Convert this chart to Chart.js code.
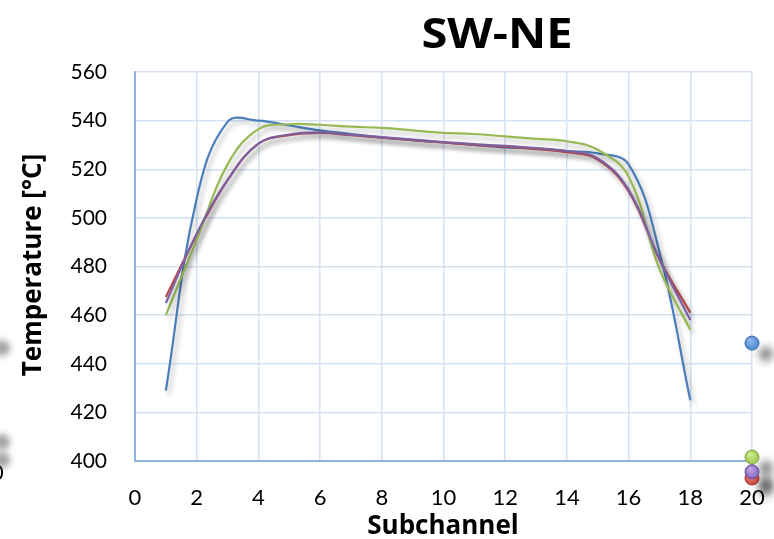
<!DOCTYPE html>
<html>
<head>
<meta charset="utf-8">
<script src="https://cdn.jsdelivr.net/npm/chart.js@4"></script>
<style>
  html, body { margin: 0; padding: 0; background: #fff; }
  #wrap { position: relative; width: 774px; height: 539px; overflow: hidden; font-family: "Open Sans", sans-serif; }
  #title { position: absolute; left: 497px; top: 31px; transform: translate(-50%, -50%) scaleX(1.12); font-weight: bold; font-size: 42px; color: #000; white-space: nowrap; }
  #ytitle { position: absolute; left: 31px; top: 265px; transform: translate(-50%, -50%) rotate(-90deg); font-weight: bold; font-size: 26px; white-space: nowrap; }
  #xtitle { position: absolute; left: 443px; top: 524px; transform: translate(-50%, -50%); font-weight: bold; font-size: 26px; white-space: nowrap; }
  #edge0 { position: absolute; left: -9px; top: 458px; font-size: 22px; font-family: Lato, sans-serif; }
  .blob { position: absolute; width: 16px; height: 16px; border-radius: 50%; background: rgba(90,90,90,0.55); filter: blur(3px); }
  canvas { position: absolute; left: 0; top: 0; }
</style>
</head>
<body>
<div id="wrap">
  <canvas id="c" width="774" height="539"></canvas>
  <div id="title">SW-NE</div>
  <div id="ytitle">Temperature [°C]</div>
  <div id="xtitle">Subchannel</div>
  <div id="edge0">0</div>
  <div class="blob" style="left:-6px;top:340px"></div>
  <div class="blob" style="left:-6px;top:434px"></div>
  <div class="blob" style="left:-6px;top:452px"></div>
</div>
<script>
const subchannels = [1,2,3,4,5,6,7,8,9,10,11,12,13,14,15,16,17,18];
const blueSeries   = [429,508,539.5,540,538,536,534.5,533,532,531,530,529,528.5,527.5,526.5,522,486,425];
const redSeries    = [467.5,493,515.5,530.5,534,535,534,533,532,531,530,529.3,528.3,527,524,511,483,461];
const greenSeries  = [460,491,522,536.5,538.5,538.3,537.5,537,536,535,534.5,533.5,532.5,531.5,528,517,479,454];
const purpleSeries = [465,493.5,515.5,530.5,534.3,535.2,534.2,533.2,532.2,531.2,530.3,529.6,528.7,527.5,524.5,511.5,483,458];
const endX = 20;
const endBlue = 448.5, endRed = 393, endGreen = 401.6, endPurple = 395.6;
const xTicks = [0,2,4,6,8,10,12,14,16,18,20];
const yTicks = [400,420,440,460,480,500,520,540,560];

const toXY = arr => arr.map((v,i) => ({x: subchannels[i], y: v}));

const lineDS = (label, data, color, order) => ({
  label, type: 'line', data: toXY(data), borderColor: color, borderWidth: 2.2,
  pointRadius: 0, tension: 0.4, fill: false, order: order, lineShadow: true
});

// end markers at subchannel 20 (some fall just below the axis, so drawn with clip off via the scales)
const endMarkers = [
  { value: endBlue,   light: '#8db8ee', base: '#4f86d0', edge: '#3c6fb3' },
  { value: endGreen,  light: '#cfeb8f', base: '#9cc64e', edge: '#7fa23c' },
  { value: endRed,    light: '#ee8a86', base: '#cc4541', edge: '#a33633' },
  { value: endPurple, light: '#bba5e3', base: '#8566bb', edge: '#68509a' }
];

const shadowPlugin = {
  id: 'shadows',
  beforeDatasetDraw(chart, args) {
    const ds = chart.data.datasets[args.index];
    const ctx = chart.ctx;
    ctx.save();
    if (ds.lineShadow) {
      ctx.shadowColor = 'rgba(0,0,0,0.28)';
      ctx.shadowBlur = 5; ctx.shadowOffsetX = 3; ctx.shadowOffsetY = 4;
    }
  },
  afterDatasetDraw(chart) { chart.ctx.restore(); },
  afterDatasetsDraw(chart) {
    const ctx = chart.ctx;
    const xs = chart.scales.x, ys = chart.scales.y;
    const px = xs.getPixelForValue(endX);
    const r = 7;
    endMarkers.forEach(m => {
      const py = ys.getPixelForValue(m.value);
      ctx.save();
      ctx.shadowColor = 'rgba(0,0,0,0.5)';
      ctx.shadowBlur = 9; ctx.shadowOffsetX = 14; ctx.shadowOffsetY = 11;
      const g = ctx.createRadialGradient(px - 2, py - 3, 1, px, py, r);
      g.addColorStop(0, m.light);
      g.addColorStop(1, m.base);
      ctx.beginPath();
      ctx.arc(px, py, r, 0, Math.PI * 2);
      ctx.fillStyle = g;
      ctx.fill();
      ctx.shadowColor = 'transparent';
      ctx.lineWidth = 1;
      ctx.strokeStyle = m.edge;
      ctx.stroke();
      ctx.restore();
    });
  }
};

new Chart(document.getElementById('c'), {
  data: {
    datasets: [
      lineDS('Series 1', blueSeries, '#4a7ebb', 8),
      lineDS('Series 2', redSeries, '#be4b48', 7),
      lineDS('Series 3', greenSeries, '#98b954', 6),
      lineDS('Series 4', purpleSeries, '#7d60a0', 5)
    ]
  },
  options: {
    responsive: false, animation: false,
    layout: { padding: { top: 72, right: 22, left: 0, bottom: 0 } },
    plugins: { legend: { display: false }, tooltip: { enabled: false }, title: { display: false } },
    scales: {
      x: {
        type: 'linear', min: 0, max: 20,
        afterBuildTicks: s => { s.ticks = xTicks.map(v => ({value: v})); },
        ticks: { font: { family: 'Lato', size: 22 }, color: '#000', padding: 24, maxRotation: 0 },
        grid: { color: '#d5e2f3', lineWidth: 1.5, drawTicks: false },
        border: { color: '#8fb2e0', width: 2 },
        afterFit: s => { s.height = 78; s.paddingRight = 0; }
      },
      y: {
        type: 'linear', min: 400, max: 560,
        afterBuildTicks: s => { s.ticks = yTicks.map(v => ({value: v})); },
        ticks: { font: { family: 'Lato', size: 21 }, color: '#000', padding: 28 },
        grid: { color: '#d5e2f3', lineWidth: 1.5, drawTicks: false },
        border: { color: '#8fb2e0', width: 2 },
        afterFit: s => { s.width = 135; }
      }
    }
  },
  plugins: [shadowPlugin]
});
</script>
</body>
</html>
